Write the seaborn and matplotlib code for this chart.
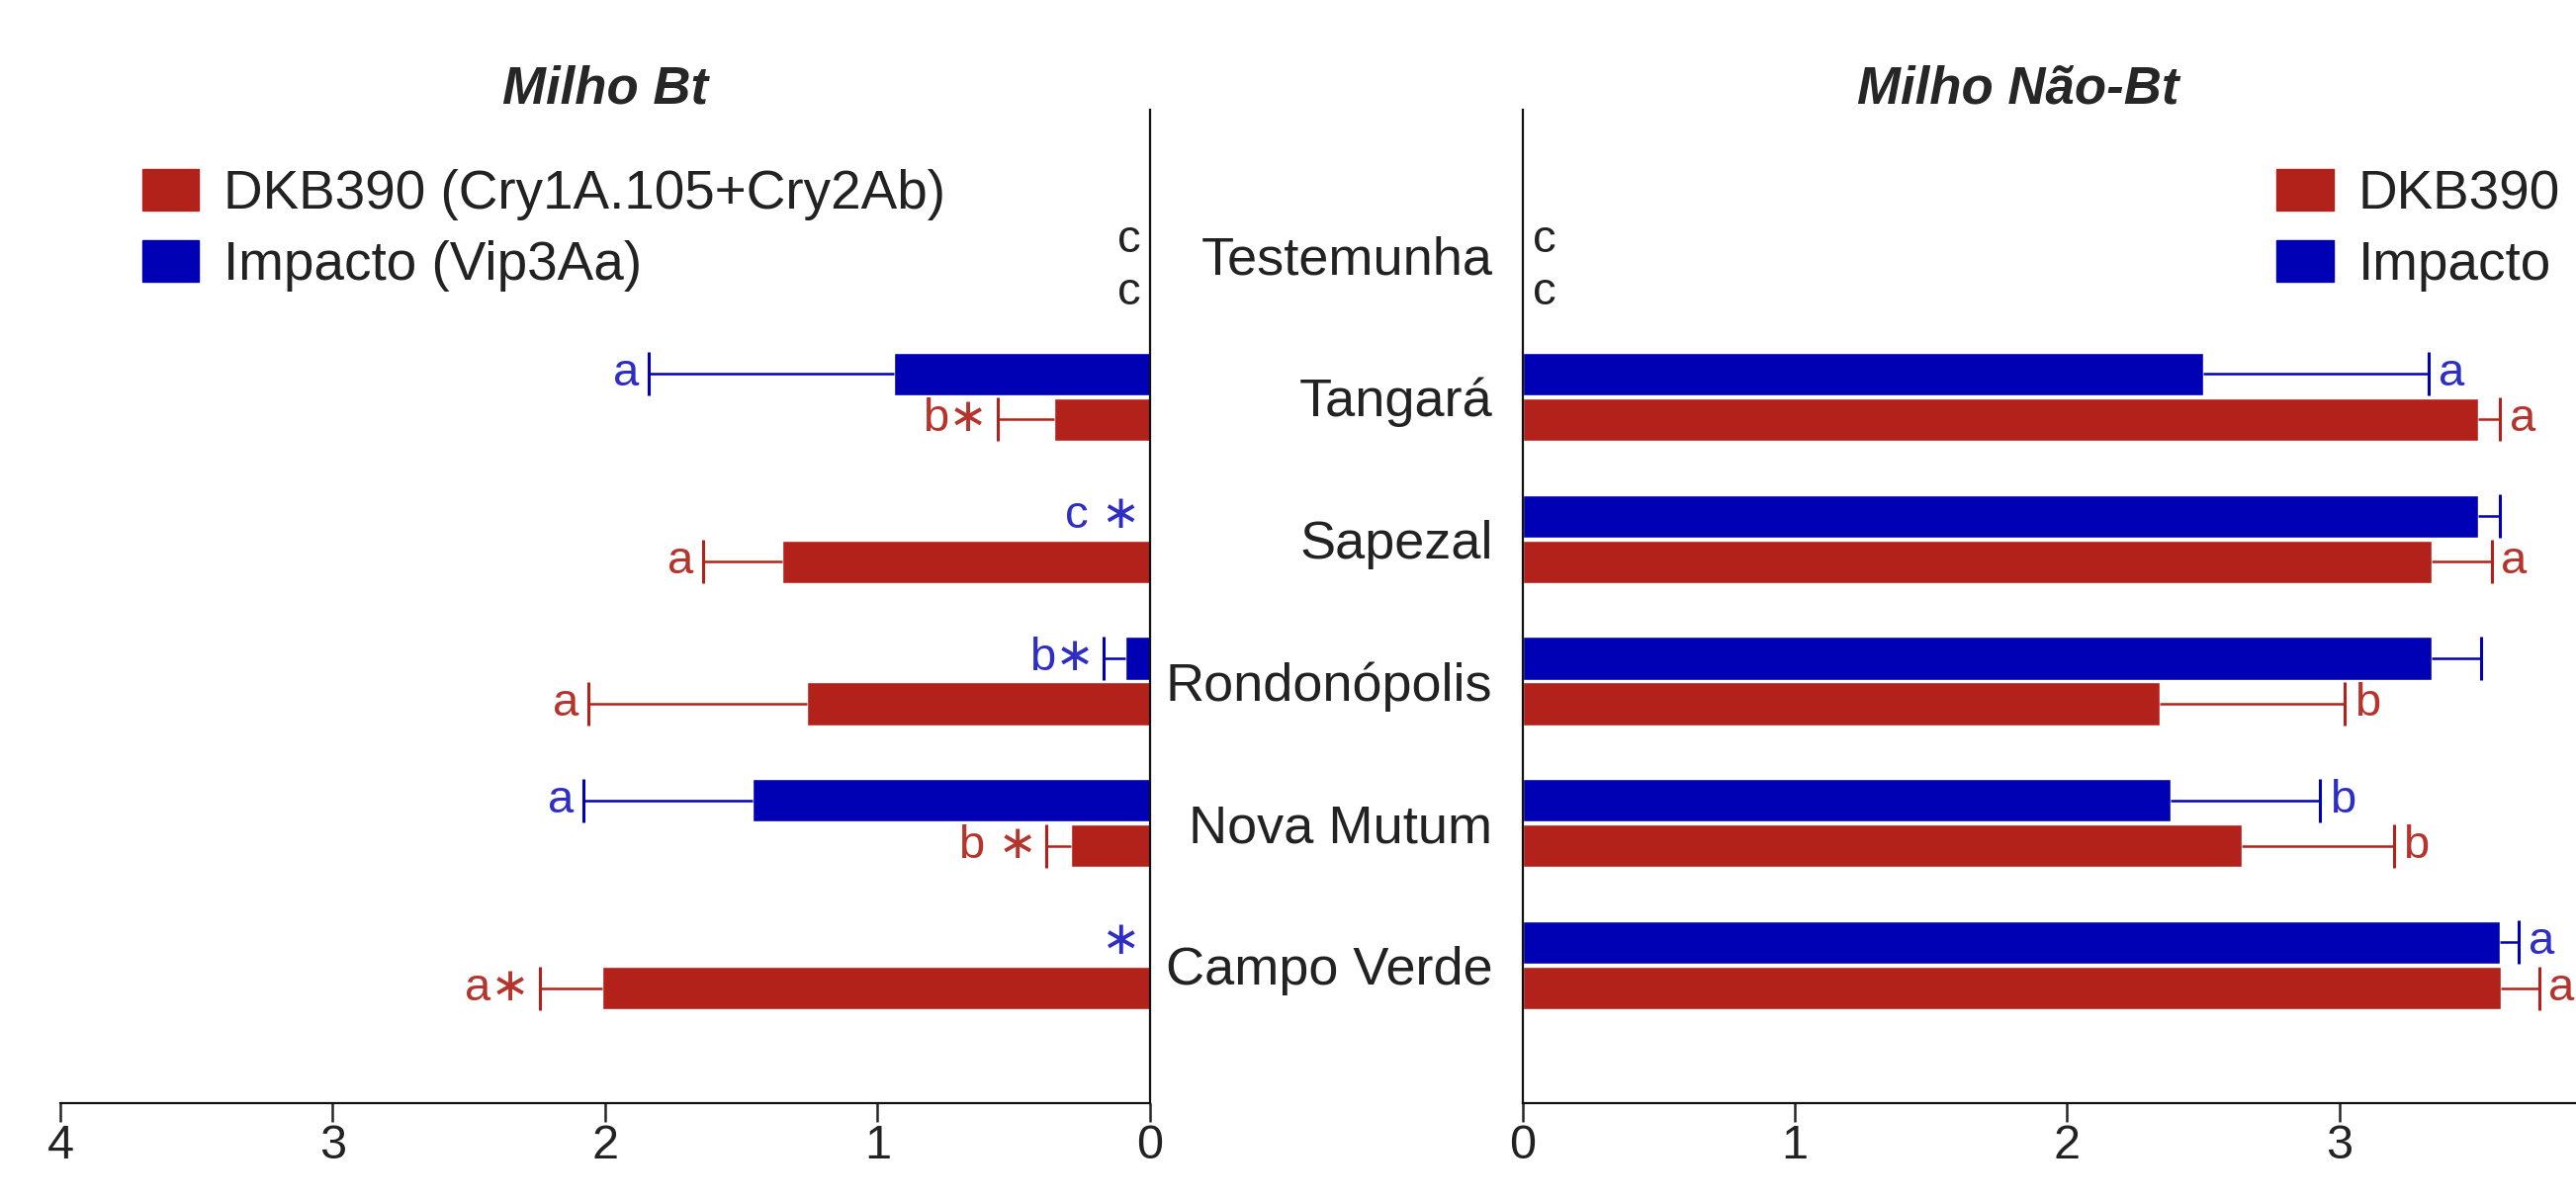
"""
Gráfico de barras espelhado: Milho Bt x Milho Não-Bt por local.
"""

import matplotlib.pyplot as plt
import numpy as np
import pandas as pd
import seaborn as sns
from matplotlib.patches import Patch

# Dados
locais = ["Testemunha", "Tangará", "Sapezal", "Rondonópolis", "Nova Mutum", "Campo Verde"]

bt_dkb = [0, 0.35, 1.35, 1.26, 0.29, 2.01]
bt_dkb_err = [0, 0.21, 0.29, 0.80, 0.09, 0.23]
bt_imp = [0, 0.94, 0, 0.09, 1.46, 0]
bt_imp_err = [0, 0.90, 0, 0.08, 0.62, 0]

nbt_dkb = [0, 3.51, 3.34, 2.34, 2.64, 3.595]
nbt_dkb_err = [0, 0.08, 0.22, 0.68, 0.56, 0.14]
nbt_imp = [0, 2.50, 3.51, 3.34, 2.38, 3.59]
nbt_imp_err = [0, 0.83, 0.08, 0.18, 0.55, 0.07]

# Letras / asteriscos
bt_dkb_lab = ["c", "b\u2217", "a", "a", "b \u2217", "a\u2217"]
bt_imp_lab = ["c", "a", "c \u2217", "b\u2217", "a", "\u2217"]
nbt_dkb_lab = ["c", "a", "a", "b", "b", "a"]
nbt_imp_lab = ["c", "a", "", "", "b", "a"]

VERMELHO = "#B3221A"
AZUL = "#0000B4"
TXT_VERM = "#B5342C"
TXT_AZUL = "#2E2EC4"

sns.set_style("white")
plt.rcParams["font.family"] = ["Liberation Sans", "DejaVu Sans"]


def montar_df(dkb, imp):
    return pd.DataFrame({
        "local": locais * 2,
        "valor": list(imp) + list(dkb),
        "cultivar": ["Impacto"] * len(locais) + ["DKB390"] * len(locais),
    })


def desenhar(ax, dkb, dkb_err, imp, imp_err, lab_dkb, lab_imp, espelho):
    df = montar_df(dkb, imp)
    sns.barplot(
        data=df, y="local", x="valor", hue="cultivar",
        hue_order=["Impacto", "DKB390"],
        palette={"Impacto": AZUL, "DKB390": VERMELHO},
        orient="h", width=0.64, gap=0.06, errorbar=None,
        legend=False, saturation=1, ax=ax,
    )
    series = [(imp, imp_err, lab_imp, AZUL, TXT_AZUL),
              (dkb, dkb_err, lab_dkb, VERMELHO, TXT_VERM)]
    pad = 0.035
    for k, (cont, (vals, errs, labs, cor, cor_txt)) in enumerate(zip(ax.containers, series)):
        centros = np.array([b.get_y() + b.get_height() / 2 for b in cont])
        vals = np.asarray(vals, dtype=float)
        errs = np.asarray(errs, dtype=float)
        fim = vals + errs
        tem = errs > 0
        ax.hlines(centros[tem], vals[tem], fim[tem], color=cor, lw=1.8, zorder=3)
        ax.plot(fim[tem], centros[tem], ls="none", marker="|", ms=32,
                mew=2.2, color=cor, zorder=3)
        for i, txt in enumerate(labs):
            if not txt:
                continue
            c = "#222222" if i == 0 else cor_txt
            y = centros[i]
            if i == 0:
                # letras da testemunha ficam um pouco abaixo
                y = y + (0.06 if k == 0 else 0.11)
            ax.text(fim[i] + pad, y, txt, color=c, fontsize=34,
                    ha="right" if espelho else "left", va="center")


fig = plt.figure(figsize=(26.05, 12.13), dpi=100)
ax_l = fig.add_axes([0.0234, 0.080, 0.4230, 0.8285])
ax_r = fig.add_axes([0.5912, 0.080, 0.4088, 0.8285])

desenhar(ax_l, bt_dkb, bt_dkb_err, bt_imp, bt_imp_err, bt_dkb_lab, bt_imp_lab, True)
desenhar(ax_r, nbt_dkb, nbt_dkb_err, nbt_imp, nbt_imp_err, nbt_dkb_lab, nbt_imp_lab, False)

# Painel esquerdo (eixo invertido)
ax_l.set_xlim(4, 0)
ax_l.set_ylim(5.97, -1.02)
ax_l.set_xticks([0, 1, 2, 3, 4])
ax_l.set_yticks([])
ax_l.set_xlabel("")
ax_l.set_ylabel("")
for s in ["left", "top"]:
    ax_l.spines[s].set_visible(False)

# Painel direito
ax_r.set_xlim(0, 3.87)
ax_r.set_ylim(5.97, -1.02)
ax_r.set_xticks([0, 1, 2, 3])
ax_r.set_xlabel("")
ax_r.set_ylabel("")
ax_r.tick_params(axis="y", length=0, pad=22, labelsize=39, labelcolor="#222222")
for s in ["right", "top"]:
    ax_r.spines[s].set_visible(False)

for ax in (ax_l, ax_r):
    for s in ax.spines.values():
        s.set_linewidth(1.6)
        s.set_color("#111111")
    ax.tick_params(axis="x", direction="out", length=14, width=1.8,
                   labelsize=35, pad=1, labelcolor="#222222", bottom=True)

ax_l.set_title("Milho Bt", fontsize=38, fontweight="bold", fontstyle="italic", pad=5)
ax_r.set_title("Milho Não-Bt", fontsize=38, fontweight="bold", fontstyle="italic",
               pad=5, x=0.47)

leg_kw = dict(frameon=False, fontsize=39.5, handlelength=1.05, handleheight=0.8,
              handletextpad=0.45, labelspacing=0.35, borderpad=0, borderaxespad=0,
              labelcolor="#222222")
ax_l.legend(handles=[Patch(color=VERMELHO, label="DKB390 (Cry1A.105+Cry2Ab)"),
                     Patch(color=AZUL, label="Impacto (Vip3Aa)")],
            loc="upper left", bbox_to_anchor=(0.075, 0.94), **leg_kw)
ax_r.legend(handles=[Patch(color=VERMELHO, label="DKB390"),
                     Patch(color=AZUL, label="Impacto")],
            loc="upper right", bbox_to_anchor=(0.985, 0.94), **leg_kw)

fig.savefig("out.png", dpi=100)
plt.close(fig)
